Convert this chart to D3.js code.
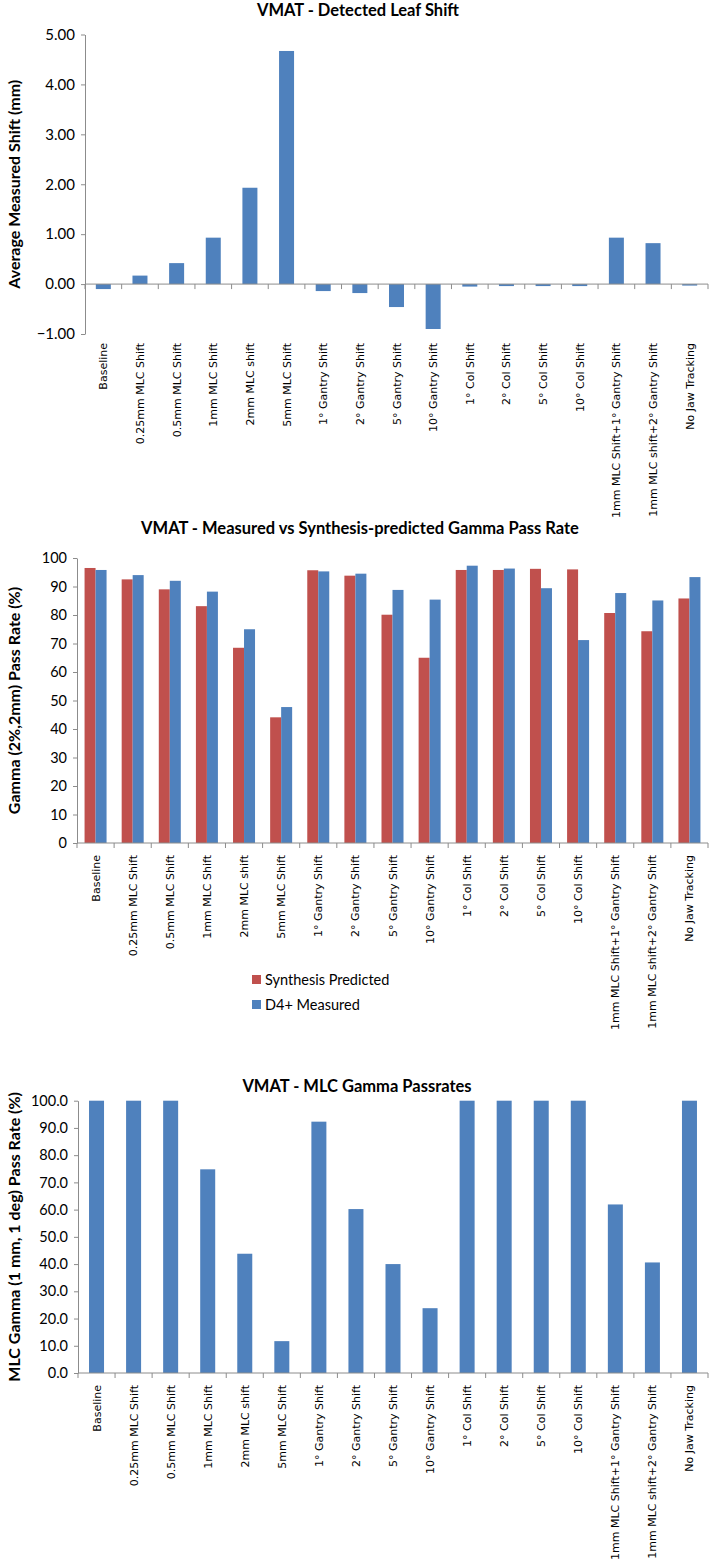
<!DOCTYPE html>
<html><head><meta charset="utf-8">
<script src="https://cdn.jsdelivr.net/npm/d3@7"></script>
<style>body{margin:0;background:#fff}</style>
</head><body>
<script>
const categories = ["Baseline","0.25mm MLC Shift","0.5mm MLC Shift","1mm MLC Shift","2mm MLC shift","5mm MLC Shift","1° Gantry Shift","2° Gantry Shift","5° Gantry Shift","10° Gantry Shift","1° Col Shift","2° Col Shift","5° Col Shift","10° Col Shift","1mm MLC Shift+1° Gantry Shift","1mm MLC shift+2° Gantry Shift","No Jaw Tracking"];
const leafShift = [-0.10,0.17,0.42,0.93,1.93,4.67,-0.14,-0.18,-0.46,-0.90,-0.05,-0.04,-0.04,-0.04,0.93,0.82,-0.03];
const synthesisPredicted = [96.5,92.5,89.0,83.1,68.5,44.1,95.7,93.8,80.1,65.0,95.8,95.8,96.2,96.0,80.7,74.3,85.8];
const d4Measured = [95.8,94.0,92.0,88.2,75.0,47.7,95.3,94.5,88.8,85.4,97.3,96.3,89.4,71.2,87.7,85.1,93.3];
const mlcPass = [100,100,100,74.8,43.8,11.7,92.3,60.2,40.0,23.8,100,100,100,100,61.9,40.6,100];
const ticks1 = [-1,0,1,2,3,4,5];
const ticks2 = [0,10,20,30,40,50,60,70,80,90,100];
const ticks3 = [0,10,20,30,40,50,60,70,80,90,100];
const seriesNames = ["Synthesis Predicted","D4+ Measured"];

const BLUE="#4F81BD", RED="#C0504D", AX="#8c8c8c";
const W=709,H=1560;
const svg=d3.select("body").append("svg").attr("width",W).attr("height",H)
  .style("font-family","Lato, 'Liberation Sans', sans-serif");

function chart(o){
  const g=svg.append("g");
  const x=d3.scaleBand().domain(categories).range([o.x0,o.x1]);
  const y=d3.scaleLinear().domain(o.dom).range([o.yb,o.yt]);
  g.append("text").attr("x",o.tx).attr("y",o.ty).attr("text-anchor","middle")
    .attr("font-weight","bold").attr("font-size",16.5).attr("fill","#000").text(o.title);
  g.append("text").attr("transform",`translate(${o.ytx},${(o.yt+o.yb)/2}) rotate(-90)`)
    .attr("text-anchor","middle").attr("font-weight","bold").attr("font-size",16).text(o.ytitle);
  const ya=g.append("g").attr("transform",`translate(${o.x0},0)`)
    .call(d3.axisLeft(y).tickValues(o.ticks).tickFormat(o.fmt).tickSize(4).tickSizeOuter(0).tickPadding(6));
  ya.select(".domain").attr("stroke",AX);
  ya.selectAll(".tick line").attr("stroke",AX);
  ya.selectAll(".tick text").attr("font-size",o.tfs).attr("fill","#000").style("font-family","Lato, sans-serif");
  o.series.forEach((s,si)=>{
    const n=o.series.length;
    g.append("g").selectAll("rect").data(s.vals).join("rect")
      .attr("x",(d,i)=>x(categories[i])+x.bandwidth()/2 - n*o.bw/2 + si*o.bw)
      .attr("width",o.bw)
      .attr("y",d=>Math.min(y(d),y(0)))
      .attr("height",d=>Math.abs(y(d)-y(0)))
      .attr("fill",s.color);
  });
  const xa=g.append("g").attr("transform",`translate(0,${y(0)})`);
  xa.append("line").attr("x1",o.x0).attr("x2",o.x1).attr("stroke",AX);
  xa.selectAll("line.tk").data(d3.range(categories.length+1)).join("line").attr("class","tk")
    .attr("x1",i=>o.x0+i*x.step()).attr("x2",i=>o.x0+i*x.step()).attr("y1",0).attr("y2",5).attr("stroke",AX);
  g.append("g").selectAll("text").data(categories).join("text")
    .attr("transform",d=>`translate(${x(d)+x.bandwidth()/2+4},${o.ly}) rotate(-90)`)
    .attr("text-anchor","end").attr("font-size",11)
    .style("font-family","'DejaVu Sans', sans-serif").attr("fill","#000").text(d=>d);
  return {x,y};
}

chart({x0:85,x1:708,yb:334,yt:34.5,dom:[-1,5],ticks:ticks1,fmt:d3.format(".2f"),tfs:15,
  title:"VMAT - Detected Leaf Shift",tx:358,ty:16,ytitle:"Average Measured Shift (mm)",ytx:20,
  bw:15,ly:343,series:[{vals:leafShift,color:BLUE}]});

chart({x0:77,x1:708,yb:843,yt:558,dom:[0,100],ticks:ticks2,fmt:d3.format("d"),tfs:14.5,
  title:"VMAT - Measured vs Synthesis-predicted Gamma Pass Rate",tx:360,ty:534,ytitle:"Gamma (2%,2mm) Pass Rate (%)",ytx:20,
  bw:11,ly:855,series:[{vals:synthesisPredicted,color:RED},{vals:d4Measured,color:BLUE}]});

chart({x0:78,x1:708,yb:1373,yt:1100.7,dom:[0,100],ticks:ticks3,fmt:d3.format(".1f"),tfs:14.5,
  title:"VMAT - MLC Gamma Passrates",tx:357,ty:1092,ytitle:"MLC Gamma (1 mm, 1 deg) Pass Rate (%)",ytx:20,
  bw:15,ly:1385,series:[{vals:mlcPass,color:BLUE}]});

const lg=svg.append("g");
lg.selectAll("rect").data(seriesNames).join("rect")
  .attr("x",252).attr("y",(d,i)=>975+i*25).attr("width",9).attr("height",9)
  .attr("fill",(d,i)=>i?BLUE:RED);
lg.selectAll("text").data(seriesNames).join("text")
  .attr("x",265).attr("y",(d,i)=>985+i*25).attr("font-size",14.5).text(d=>d);
</script>
</body></html>
